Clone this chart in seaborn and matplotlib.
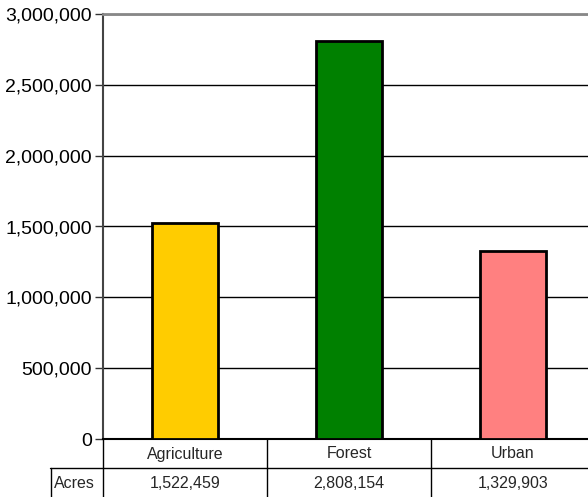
import matplotlib
matplotlib.use("Agg")
import matplotlib.pyplot as plt
import matplotlib.transforms as mtransforms
from matplotlib.lines import Line2D
import seaborn as sns
import pandas as pd

categories = ["Agriculture", "Forest", "Urban"]
acres = [1522459, 2808154, 1329903]
colors = ["#FFCC00", "#008000", "#FF8080"]
row_label = "Acres"
yticks = [0, 500000, 1000000, 1500000, 2000000, 2500000, 3000000]

sns.set_theme(style="white")
plt.rcParams['font.family'] = ['Liberation Sans', 'DejaVu Sans']

W, H = 588, 497
fig = plt.figure(figsize=(W / 100, H / 100), dpi=100)
L, R, T, B = 103, 595, 14, 439
ax = fig.add_axes([L / W, 1 - B / H, (R - L) / W, (B - T) / H])

df = pd.DataFrame({"cat": categories, "val": acres})
sns.barplot(data=df, x="cat", y="val", hue="cat", palette=colors, legend=False,
            saturation=1, width=0.4, edgecolor="black", linewidth=2, ax=ax, zorder=3)

ax.set_xlim(-0.5, 2.5)
ax.set_ylim(0, 3000000)
ax.set_yticks(yticks)
ax.set_yticklabels([f"{v:,}" for v in yticks], fontsize=14, color="black")
ax.set_xticks([])
ax.set_xlabel("")
ax.set_ylabel("")
ax.grid(axis="y", color="black", linewidth=1, zorder=0)
ax.set_axisbelow(True)
ax.tick_params(axis="y", which="both", left=True, length=6, width=1, color="#333333", pad=2)
ax.spines["right"].set_visible(False)
ax.spines["top"].set_color("#888888")
ax.spines["top"].set_linewidth(2)
ax.spines["left"].set_color("#444444")
ax.spines["left"].set_linewidth(1.5)
ax.spines["bottom"].set_color("black")
ax.spines["bottom"].set_linewidth(1.5)

# data table below
trans = mtransforms.blended_transform_factory(ax.transData, fig.transFigure)
def fy(py):
    return 1 - py / H

row1_top, row2_top, row2_bot = 439, 468, 497
bounds = [-0.5, 0.5, 1.5, 2.5]
for xb in bounds:
    fig.add_artist(Line2D([xb, xb], [fy(row1_top), fy(row2_bot)], transform=trans,
                          color="black", linewidth=1, clip_on=False))
fig.add_artist(Line2D([50 / W, 1.0], [fy(row2_top), fy(row2_top)], transform=fig.transFigure,
                      color="black", linewidth=1))
fig.add_artist(Line2D([50.5 / W, 50.5 / W], [fy(row2_top), fy(row2_bot)], transform=fig.transFigure,
                      color="black", linewidth=1))

for i, (c, v) in enumerate(zip(categories, acres)):
    fig.text(i, fy(454), c, transform=trans, ha="center", va="center", fontsize=11.5)
    fig.text(i, fy(484), f"{v:,}", transform=trans, ha="center", va="center", fontsize=11.5)
fig.text(74 / W, fy(484), row_label, ha="center", va="center", fontsize=11.5)

fig.savefig("out.png", dpi=100)
